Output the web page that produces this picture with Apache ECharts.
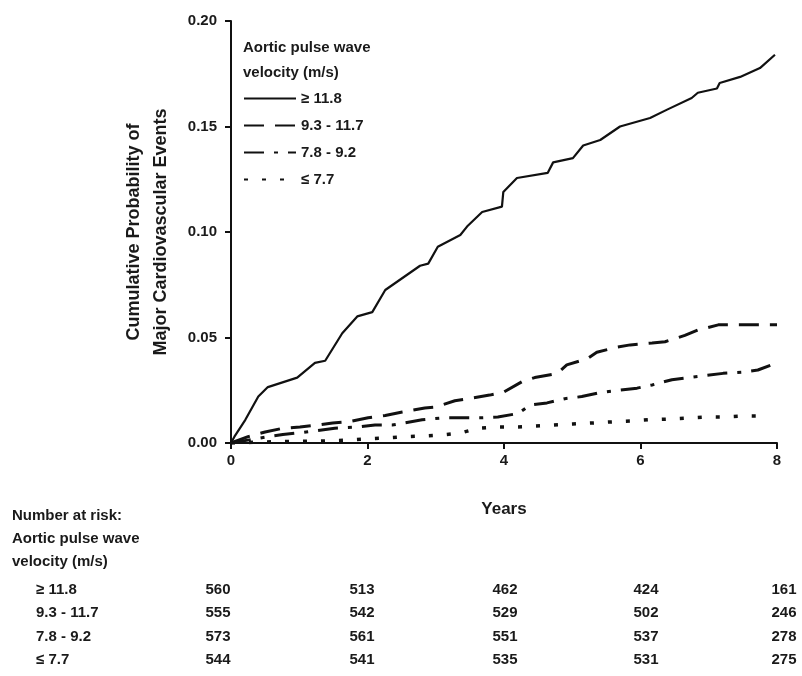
<!DOCTYPE html>
<html>
<head>
<meta charset="utf-8">
<script src="https://cdn.jsdelivr.net/npm/echarts@6/dist/echarts.min.js"></script>
<style>
html,body{margin:0;padding:0;background:#fff;}
#chart{width:802px;height:676px;}
</style>
</head>
<body>
<div id="chart"></div>
<script>
// ---- data ----
var seriesNames = ['\u2265 11.8', '9.3 - 11.7', '7.8 - 9.2', '\u2264 7.7'];

var pwvHigh = [
  [0,0],[0.05,0.003],[0.21,0.011],[0.40,0.022],[0.54,0.0265],[0.97,0.031],[1.23,0.038],
  [1.38,0.039],[1.63,0.052],[1.85,0.060],[2.07,0.062],[2.26,0.0725],[2.77,0.084],
  [2.89,0.085],[3.03,0.093],[3.36,0.0986],[3.47,0.103],[3.68,0.1095],[3.97,0.112],
  [3.99,0.119],[4.19,0.1256],[4.64,0.128],[4.72,0.133],[5.01,0.135],[5.16,0.141],
  [5.41,0.1436],[5.70,0.150],[6.14,0.154],[6.39,0.158],[6.75,0.1635],[6.84,0.166],
  [7.12,0.168],[7.16,0.1706],[7.46,0.1735],[7.75,0.1777],[7.97,0.184]
];
var pwvMidHigh = [
  [0,0],[0.25,0.003],[0.50,0.0052],[0.76,0.007],[1.01,0.0076],[1.26,0.0085],[1.49,0.0095],
  [1.71,0.010],[2.01,0.012],[2.26,0.013],[2.51,0.0147],[2.84,0.0166],[2.99,0.017],
  [3.28,0.020],[3.47,0.021],[3.79,0.0227],[3.99,0.024],[4.26,0.029],[4.45,0.031],
  [4.78,0.033],[4.92,0.037],[5.22,0.040],[5.36,0.043],[5.66,0.0455],[5.85,0.0465],
  [6.17,0.0474],[6.36,0.048],[6.65,0.051],[6.84,0.0535],[7.14,0.056],[8.0,0.056]
];
var pwvMidLow = [
  [0,0],[0.54,0.003],[0.76,0.004],[1.05,0.005],[1.52,0.007],[1.86,0.0076],[2.11,0.0085],
  [2.36,0.0085],[2.80,0.011],[3.14,0.012],[3.43,0.012],[3.68,0.012],[3.91,0.0123],
  [4.21,0.014],[4.38,0.018],[4.63,0.019],[4.89,0.021],[5.14,0.022],[5.38,0.0237],
  [5.67,0.025],[5.95,0.026],[6.17,0.0275],[6.46,0.030],[6.70,0.031],[6.95,0.032],
  [7.21,0.033],[7.49,0.0336],[7.72,0.0346],[8.0,0.038]
];
var pwvLow = [
  [0,0],[0.5,0.0005],[1.0,0.0008],[1.4,0.001],[1.71,0.0014],[2.01,0.002],[2.30,0.0024],
  [2.58,0.003],[2.81,0.0033],[3.09,0.0038],[3.36,0.0047],[3.62,0.007],[3.90,0.0076],
  [4.19,0.0076],[4.45,0.008],[4.72,0.0085],[5.01,0.009],[5.30,0.0095],[5.58,0.010],
  [5.85,0.0104],[6.11,0.011],[6.40,0.0113],[6.68,0.0118],[6.95,0.0123],[7.21,0.0123],
  [7.50,0.0128],[7.82,0.0128]
];

var riskLabels = ['\u2265 11.8', '9.3 - 11.7', '7.8 - 9.2', '\u2264 7.7'];
var riskHigh = [560, 513, 462, 424, 161];
var riskMidHigh = [555, 542, 529, 502, 246];
var riskMidLow = [573, 561, 551, 537, 278];
var riskLow = [544, 541, 535, 531, 275];

var yTicks = [0, 0.05, 0.10, 0.15, 0.20];
var xTicks = [0, 2, 4, 6, 8];

// ---- chart ----
var FONT = '"Liberation Sans", Arial, sans-serif';
var TXT = '#1a1a1a';
var chart = echarts.init(document.getElementById('chart'), null, {renderer: 'canvas'});

var allSeries = [pwvHigh, pwvMidHigh, pwvMidLow, pwvLow];
var dashes = ['solid', [20, 11], [20, 10, 4, 10], [4, 14]];
var widths = [2.2, 3, 3, 3.5];

var riskAll = [riskHigh, riskMidHigh, riskMidLow, riskLow];
var colX = [218, 362, 505, 646, 784];
var rowY = [590, 613, 637, 660];

var graphics = [
  {type: 'text', left: 243, top: 40, style: {text: 'Aortic pulse wave', font: 'bold 15px ' + FONT, fill: TXT}},
  {type: 'text', left: 243, top: 65, style: {text: 'velocity (m/s)', font: 'bold 15px ' + FONT, fill: TXT}},
  {type: 'text', left: 12, top: 508, style: {text: 'Number at risk:', font: 'bold 15px ' + FONT, fill: TXT}},
  {type: 'text', left: 12, top: 531, style: {text: 'Aortic pulse wave', font: 'bold 15px ' + FONT, fill: TXT}},
  {type: 'text', left: 12, top: 554, style: {text: 'velocity (m/s)', font: 'bold 15px ' + FONT, fill: TXT}}
];
riskLabels.forEach(function (lab, r) {
  graphics.push({type: 'text', x: 36, y: rowY[r], style: {text: lab, font: 'bold 15px ' + FONT, fill: TXT, textVerticalAlign: 'middle'}});
  riskAll[r].forEach(function (v, c) {
    graphics.push({type: 'text', x: colX[c], y: rowY[r], style: {text: String(v), font: 'bold 15px ' + FONT, fill: TXT, textAlign: 'center', textVerticalAlign: 'middle'}});
  });
});

chart.setOption({
  animation: false,
  backgroundColor: '#fff',
  grid: {left: 231, right: 25, top: 21, bottom: 233, containLabel: false},
  xAxis: {
    type: 'value', min: 0, max: 8, interval: 2,
    name: 'Years', nameLocation: 'middle', nameGap: 58,
    nameTextStyle: {fontFamily: FONT, fontWeight: 'bold', fontSize: 17, color: TXT},
    axisLine: {show: true, onZero: false, lineStyle: {color: '#111', width: 2}},
    axisTick: {show: true, length: 6, lineStyle: {color: '#111', width: 2}},
    axisLabel: {fontFamily: FONT, fontWeight: 'bold', fontSize: 15, color: TXT, margin: 10,
      formatter: function (v) { return xTicks.indexOf(v) >= 0 ? String(v) : ''; }},
    splitLine: {show: false}
  },
  yAxis: {
    type: 'value', min: 0, max: 0.2, interval: 0.05,
    name: 'Cumulative Probability of\nMajor Cardiovascular Events',
    nameLocation: 'middle', nameGap: 56, nameRotate: 90,
    nameTextStyle: {fontFamily: FONT, fontWeight: 'bold', fontSize: 18, color: TXT, lineHeight: 27},
    axisLine: {show: true, lineStyle: {color: '#111', width: 2}},
    axisTick: {show: true, length: 6, lineStyle: {color: '#111', width: 2}},
    axisLabel: {fontFamily: FONT, fontWeight: 'bold', fontSize: 15, color: TXT, margin: 14,
      formatter: function (v) { return v.toFixed(2); }},
    splitLine: {show: false}
  },
  legend: {
    orient: 'vertical', left: 238, top: 86, itemGap: 12, itemWidth: 52, itemHeight: 18,
    itemStyle: {opacity: 0, borderWidth: 0},
    textStyle: {fontFamily: FONT, fontWeight: 'bold', fontSize: 15, color: TXT},
    data: seriesNames
  },
  graphic: graphics,
  series: allSeries.map(function (d, i) {
    return {
      name: seriesNames[i], type: 'line', data: d, symbol: 'none', showSymbol: false,
      lineStyle: {color: '#111', width: widths[i], type: dashes[i], cap: 'butt'},
      itemStyle: {color: '#111'}
    };
  })
});
</script>
</body>
</html>
